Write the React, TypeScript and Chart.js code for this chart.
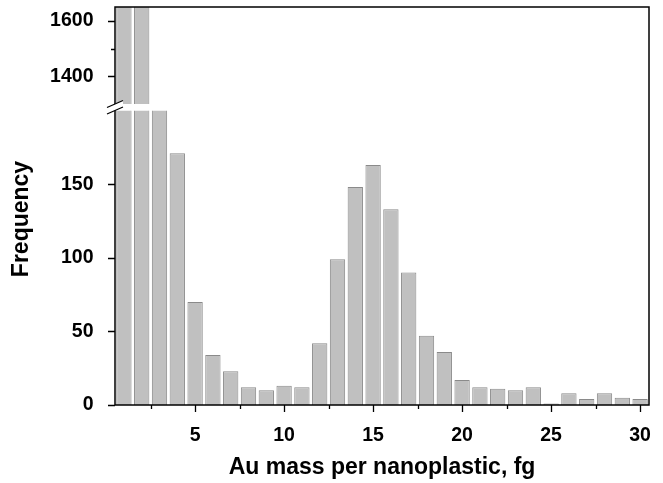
import React, { useEffect, useRef } from 'react';
import { Chart, registerables } from 'chart.js';

Chart.register(...registerables);

// ---- data ----
const BIN_CENTERS = [1, 2, 3, 4, 5, 6, 7, 8, 9, 10, 11, 12, 13, 14, 15, 16, 17, 18, 19, 20, 21, 22, 23, 24, 25, 26, 27, 28, 29, 30];
const COUNTS = [1900, 1780, 560, 171, 70, 34, 23, 12, 10, 13, 12, 42, 99, 148, 163, 133, 90, 47, 36, 17, 12, 11, 10, 12, 1, 8, 4, 8, 5, 4];

const X_TICKS = [2.5, 5, 7.5, 10, 12.5, 15, 17.5, 20, 22.5, 25, 27.5, 30];
const X_LABELED = [5, 10, 15, 20, 25, 30];
const LOW_TICKS = [0, 25, 50, 75, 100, 125, 150, 175];
const LOW_LABELED = [0, 50, 100, 150];
const HIGH_TICKS = [1400, 1500, 1600];
const HIGH_LABELED = [1400, 1600];

const X_MIN = 0.5;
const X_MAX = 30.5;
const LOW_MIN = 0;
const LOW_MAX = 200;
const HIGH_BREAK = 1300; // lower end of the upper segment
const HIGH_FLOOR = 1276.5; // scale floor below the break (leaves the gap)
const HIGH_MAX = 1650;

const X_TITLE = 'Au mass per nanoplastic, fg';
const Y_TITLE = 'Frequency';

// ---- styles ----
const FONT_FAMILY = 'Arial, "Liberation Sans", Helvetica, sans-serif';
const TICK_FONT = { family: FONT_FAMILY, size: 19.5, weight: 'bold' as const };
const BAR_FILL = '#c0c0c0';
const BAR_EDGE = '#8a8a8a';

const points = BIN_CENTERS.map((x, i) => ({ x, y: COUNTS[i] }));

const segmentClip = {
  id: 'segmentClip',
  beforeDatasetDraw(chart: any, args: any) {
    const meta = args.meta;
    const s = chart.scales[meta.yAxisID];
    const top = s.top;
    const bottom = meta.yAxisID === 'yHigh' ? s.getPixelForValue(HIGH_BREAK) : s.bottom;
    const { left, right } = chart.chartArea;
    const ctx = chart.ctx;
    ctx.save();
    ctx.beginPath();
    ctx.rect(left, top, right - left, bottom - top);
    ctx.clip();
  },
  afterDatasetDraw(chart: any) {
    chart.ctx.restore();
  },
};

const frameAndBreak = {
  id: 'frameAndBreak',
  afterDraw(chart: any) {
    const ctx = chart.ctx;
    const { left, right, top, bottom } = chart.chartArea;
    const yLow = chart.scales.yLow;
    const yHigh = chart.scales.yHigh;
    const x = chart.scales.x;
    ctx.save();
    ctx.strokeStyle = '#000';
    ctx.lineWidth = 1.5;
    ctx.strokeRect(left, top, right - left, bottom - top);

    ctx.lineWidth = 1.3;
    ctx.beginPath();
    for (const s of [yLow, yHigh]) {
      for (const t of s.ticks) {
        const py = Math.round(s.getPixelForValue(t.value)) + 0.5;
        const len = t.label ? 7 : 4;
        ctx.moveTo(left - len, py);
        ctx.lineTo(left, py);
      }
    }
    for (const t of x.ticks) {
      const px = Math.round(x.getPixelForValue(t.value)) + 0.5;
      const len = t.label ? 7 : 4;
      ctx.moveTo(px, bottom);
      ctx.lineTo(px, bottom + len);
    }
    ctx.stroke();

    // axis break
    const yb1 = yHigh.getPixelForValue(HIGH_BREAK);
    const yb2 = yLow.top;
    const hw = 8;
    const rise = 3.5;
    ctx.fillStyle = '#fff';
    ctx.beginPath();
    ctx.moveTo(left - hw, yb1 + rise);
    ctx.lineTo(left + hw, yb1 - rise);
    ctx.lineTo(left + hw, yb2 - rise);
    ctx.lineTo(left - hw, yb2 + rise);
    ctx.closePath();
    ctx.fill();
    ctx.lineWidth = 1.2;
    ctx.beginPath();
    ctx.moveTo(left - hw, yb1 + rise);
    ctx.lineTo(left + hw, yb1 - rise);
    ctx.moveTo(left - hw, yb2 + rise);
    ctx.lineTo(left + hw, yb2 - rise);
    ctx.stroke();

    // y title
    ctx.fillStyle = '#000';
    ctx.font = `bold 23px ${FONT_FAMILY}`;
    ctx.textAlign = 'center';
    ctx.textBaseline = 'middle';
    ctx.translate(22, (top + bottom) / 2 + 13);
    ctx.rotate(-Math.PI / 2);
    ctx.fillText(Y_TITLE, 0, 0);
    ctx.restore();
  },
};

const fixY = (s: any) => {
  s.width = 115;
  s.paddingTop = 0;
  s.paddingBottom = 0;
};

export default function App() {
  const ref = useRef<HTMLCanvasElement>(null);

  useEffect(() => {
    if (!ref.current) return;
    const barCommon = {
      data: points,
      backgroundColor: BAR_FILL,
      borderColor: BAR_EDGE,
      borderWidth: 1,
      barPercentage: 0.86,
      categoryPercentage: 1,
      grouped: false,
    };
    const chart = new Chart(ref.current, {
      type: 'bar',
      data: {
        datasets: [
          { ...barCommon, label: 'low', yAxisID: 'yLow' },
          { ...barCommon, label: 'high', yAxisID: 'yHigh' },
        ],
      },
      options: {
        animation: false,
        responsive: false,
        devicePixelRatio: 1,
        layout: { padding: { top: 7, right: 14, left: 0, bottom: 0 } },
        plugins: { legend: { display: false }, tooltip: { enabled: false } },
        scales: {
          x: {
            type: 'linear',
            min: X_MIN,
            max: X_MAX,
            offset: false,
            grid: { display: false, drawTicks: false },
            border: { display: false },
            ticks: {
              autoSkip: false,
              maxRotation: 0,
              padding: 19,
              color: '#000',
              font: TICK_FONT,
              callback: (v: any) => (X_LABELED.includes(Number(v)) ? String(v) : ''),
            },
            afterBuildTicks: (s: any) => {
              s.ticks = X_TICKS.map((v) => ({ value: v }));
            },
            afterFit: (s: any) => {
              s.height = 78;
              s.paddingLeft = 0;
              s.paddingRight = 0;
            },
            title: {
              display: true,
              text: X_TITLE,
              color: '#000',
              font: { family: FONT_FAMILY, size: 23, weight: 'bold' },
              padding: { top: 0, bottom: 2 },
            },
          },
          yLow: {
            type: 'linear',
            position: 'left',
            stack: 'freq',
            stackWeight: 294.5,
            min: LOW_MIN,
            max: LOW_MAX,
            grid: { display: false, drawTicks: false },
            border: { display: false },
            ticks: {
              padding: 21.5,
              color: '#000',
              font: TICK_FONT,
              callback: (v: any) => (LOW_LABELED.includes(Number(v)) ? String(v) : ''),
            },
            afterBuildTicks: (s: any) => {
              s.ticks = LOW_TICKS.map((v) => ({ value: v }));
            },
            afterFit: fixY,
          },
          yHigh: {
            type: 'linear',
            position: 'left',
            stack: 'freq',
            stackWeight: 103.5,
            min: HIGH_FLOOR,
            max: HIGH_MAX,
            grid: { display: false, drawTicks: false },
            border: { display: false },
            ticks: {
              padding: 21.5,
              color: '#000',
              font: TICK_FONT,
              callback: (v: any) => (HIGH_LABELED.includes(Number(v)) ? String(v) : ''),
            },
            afterBuildTicks: (s: any) => {
              s.ticks = HIGH_TICKS.map((v) => ({ value: v }));
            },
            afterFit: fixY,
          },
        },
      } as any,
      plugins: [segmentClip, frameAndBreak],
    });
    return () => chart.destroy();
  }, []);

  return (
    <div style={{ position: 'fixed', left: 0, top: 0, width: 663, height: 483, background: '#fff' }}>
      <canvas ref={ref} width={663} height={483} style={{ display: 'block', width: 663, height: 483 }} />
    </div>
  );
}
